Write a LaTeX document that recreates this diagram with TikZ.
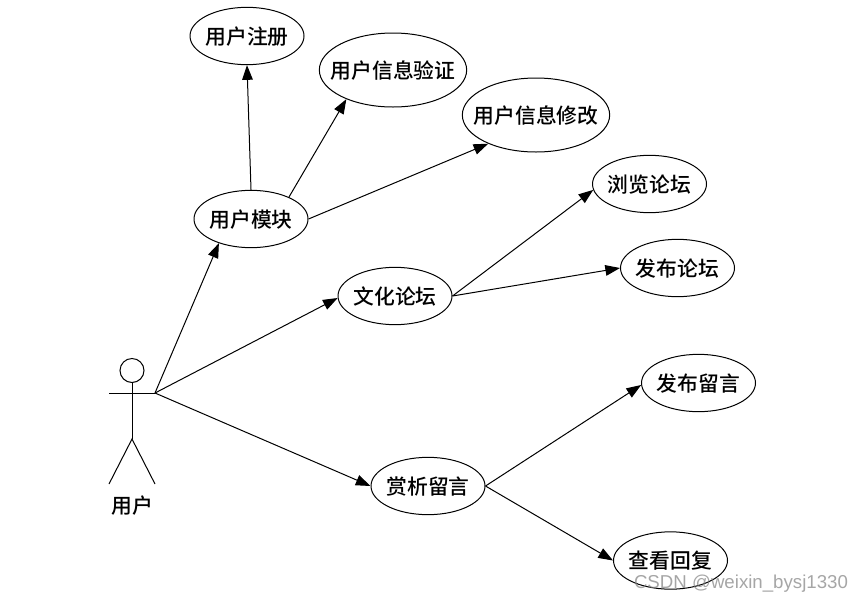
\documentclass[tikz,border=0pt]{standalone}
\usepackage{fontspec}
\setmainfont{Noto Sans CJK SC Medium}
\newfontfamily\wmfont{Liberation Sans}
\usetikzlibrary{arrows.meta,shapes.geometric}

\begin{document}
\begin{tikzpicture}[x=0.75pt,y=-0.75pt,font=\fontsize{15.6pt}{18pt}\selectfont,line width=0.75pt,
  >={Triangle[length=11pt,width=8pt]},
  usecase/.style={draw,ellipse,fill=white,inner xsep=-8pt,inner ysep=0pt,text height=15pt,text depth=2.8pt,minimum width=85.5pt,minimum height=43pt},
  bigcase/.style={usecase,minimum width=110.5pt,minimum height=55.5pt}]
\useasboundingbox (0,0) rectangle (863,604);
% use cases
\node[usecase] (zhuce) at (247,36) {用户注册};
\node[bigcase] (yanzheng) at (393,70) {用户信息验证};
\node[bigcase] (xiugai) at (536,115) {用户信息修改};
\node[usecase] (mokuai) at (251,219) {用户模块};
\node[usecase] (luntan) at (395,296) {文化论坛};
\node[usecase] (liulan) at (649.5,184) {浏览论坛};
\node[usecase] (fabult) at (677.5,268) {发布论坛};
\node[usecase] (fably) at (698.5,383) {发布留言};
\node[usecase] (shangxi) at (428,486) {赏析留言};
\node[usecase] (chakan) at (670.5,560.5) {查看回复};
% actor
\node[draw,circle,inner sep=0pt,minimum size=18pt] (head) at (132,370.5) {};
\coordinate (hand) at (155,393);
\coordinate (handl) at (109,393);
\coordinate (hip) at (132,439);
\coordinate (footl) at (109,484);
\coordinate (footr) at (155,484);
\draw (handl) -- (hand);
\draw (head) -- (hip);
\draw (footl) -- (hip) -- (footr);
\node (yonghu) at (132,506) {用户};
% connectors
\draw[->] (hand) -- (mokuai.217);
\draw[->] (hand) -- (luntan.182);
\draw[->] (hand) -- (shangxi.west);
\draw[->] (mokuai.north) -- (zhuce.south);
\draw[->] (mokuai.30) -- (yanzheng.212);
\draw[->] (mokuai.east) -- (xiugai.211);
\draw[->] (luntan.east) -- (liulan.186);
\draw[->] (luntan.east) -- (fabult.west);
\draw[->] (shangxi.east) -- (fably.182);
\draw[->] (shangxi.east) -- (chakan.west);
% watermark
\node[font=\wmfont\fontsize{14pt}{16pt}\selectfont,text=gray,opacity=0.7] (csdn) at (741,584) {CSDN @weixin\_bysj1330};
\end{tikzpicture}
\end{document}
